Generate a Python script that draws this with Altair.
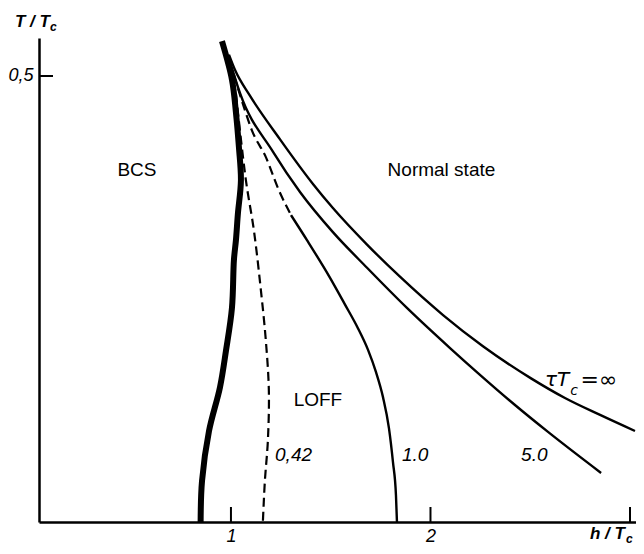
import altair as alt
import pandas as pd

# ---------------- data ----------------
# first-order BCS boundary (thick line)
thick_h = [0.955, 1.005, 1.025, 1.04, 1.05, 1.035, 1.025, 1.015, 1.005, 0.975, 0.945, 0.89, 0.855, 0.848]
thick_T = [0.539, 0.496, 0.459, 0.420, 0.383, 0.346, 0.316, 0.294, 0.240, 0.192, 0.151, 0.102, 0.046, 0.0]

# tau*Tc = 0.42 (dashed)
c042_h = [1.025, 1.075, 1.115, 1.15, 1.175, 1.19, 1.185, 1.17, 1.16]
c042_T = [0.480, 0.383, 0.327, 0.260, 0.203, 0.147, 0.091, 0.046, 0.0]

# tau*Tc = 1.0 (dashed upper part, solid lower part)
c10d_h = [1.015, 1.065, 1.105, 1.175, 1.24, 1.301]
c10d_T = [0.501, 0.465, 0.439, 0.409, 0.372, 0.344]
c10s_h = [1.301, 1.381, 1.496, 1.571, 1.637, 1.687, 1.727, 1.762, 1.792, 1.812, 1.827, 1.832]
c10s_T = [0.344, 0.316, 0.274, 0.244, 0.217, 0.193, 0.168, 0.140, 0.105, 0.067, 0.030, 0.0]

# tau*Tc = 5.0
c50_h = [0.990, 1.045, 1.211, 1.346, 1.511, 1.682, 1.882, 2.098, 2.248, 2.419, 2.589, 2.855]
c50_T = [0.520, 0.481, 0.415, 0.370, 0.325, 0.285, 0.240, 0.195, 0.165, 0.132, 0.101, 0.055]

# tau*Tc = infinity
cinf_h = [0.990, 1.020, 1.095, 1.246, 1.411, 1.511, 1.682, 1.847, 2.063, 2.263, 2.504, 2.674, 2.850, 3.025]
cinf_T = [0.524, 0.507, 0.478, 0.429, 0.379, 0.352, 0.311, 0.275, 0.232, 0.197, 0.161, 0.139, 0.120, 0.102]

x_ticks = [1, 2, 3]
y_ticks = [0.5]

# region labels / curve labels: text, h, T
region_labels = ["BCS", "Normal state", "LOFF"]
region_h = [0.529, 2.055, 1.436]
region_T = [0.395, 0.395, 0.137]

curve_labels = ["0,42", "1.0", "5.0"]
curve_label_h = [1.221, 1.857, 2.454]
curve_label_T = [0.075, 0.075, 0.075]

W, H = 597, 484
FONT = "Liberation Sans"

xscale = alt.Scale(domain=[0.038, 3.03], nice=False, zero=False)
yscale = alt.Scale(domain=[0, 0.5426], nice=False, zero=False)

xaxis = alt.Axis(values=[1, 2], format="d", ticks=False, grid=False, title=None,
                 domainColor="black", domainWidth=2.5, labelColor="black",
                 labelFont=FONT, labelFontSize=18, labelFontStyle="italic",
                 labelPadding=5)
yaxis = alt.Axis(values=[0.5], labelExpr="'0,5'", ticks=False, grid=False, title=None,
                 domainColor="black", domainWidth=2.5, labelColor="black",
                 labelFont=FONT, labelFontSize=18, labelFontStyle="italic",
                 labelPadding=6)


def X():
    return alt.X("h:Q", scale=xscale, axis=xaxis)


def Y():
    return alt.Y("T:Q", scale=yscale, axis=yaxis)


def curve_df(hs, ts):
    return pd.DataFrame({"h": hs, "T": ts, "i": list(range(len(hs)))})


def line(hs, ts, width, dash=None, interp="catmull-rom"):
    kw = dict(color="black", strokeWidth=width, interpolate=interp, strokeCap="butt")
    if dash:
        kw["strokeDash"] = dash
    return alt.Chart(curve_df(hs, ts)).mark_line(**kw).encode(x=X(), y=Y(), order="i:Q")


layers = [
    line(thick_h, thick_T, 6),
    line(c042_h, c042_T, 2.2, [9, 5]),
    line(c10d_h, c10d_T, 2.2, [9, 5], "monotone"),
    line(c10s_h, c10s_T, 2.4, None, "monotone"),
    line(c50_h, c50_T, 2.4, None, "monotone"),
    line(cinf_h, cinf_T, 2.4, None, "monotone"),
]

# inward tick marks
xt = alt.Chart(pd.DataFrame({"h": x_ticks})).mark_rule(color="black", strokeWidth=2).encode(
    x=X(), y=alt.value(H), y2=alt.value(H - 15))
yt = alt.Chart(pd.DataFrame({"T": y_ticks})).mark_rule(color="black", strokeWidth=2).encode(
    y=Y(), x=alt.value(0), x2=alt.value(14))
layers += [xt, yt]

# region labels
reg = alt.Chart(pd.DataFrame({"h": region_h, "T": region_T, "t": region_labels})).mark_text(
    font=FONT, fontSize=19, color="black", align="center", baseline="middle").encode(
    x=X(), y=Y(), text="t:N")
cl = alt.Chart(pd.DataFrame({"h": curve_label_h, "T": curve_label_T, "t": curve_labels})).mark_text(
    font=FONT, fontSize=19, fontStyle="italic", color="black", align="left", baseline="middle").encode(
    x=X(), y=Y(), text="t:N")
layers += [reg, cl]

# tau Tc = infinity label
tau_parts = [("τT", 2.574, 0.159, 20, "italic", "DejaVu Sans"),
             ("c", 2.700, 0.147, 14, "italic", "DejaVu Sans"),
             ("=∞", 2.752, 0.159, 22, "normal", "DejaVu Sans")]
for t, h, T, s, st, f in tau_parts:
    layers.append(alt.Chart(pd.DataFrame({"h": [h], "T": [T], "t": [t]})).mark_text(
        font=f, fontSize=s, fontStyle=st, color="black", align="left", baseline="middle").encode(
        x=X(), y=Y(), text="t:N"))

# axis titles (T/Tc top-left, h/Tc bottom-right)
def title_piece(t, px, py, size):
    return alt.Chart(pd.DataFrame({"t": [t]})).mark_text(
        font=FONT, fontSize=size, fontStyle="italic", fontWeight="bold", color="black",
        align="left", baseline="middle").encode(
        x=alt.value(px), y=alt.value(py), text="t:N")

layers += [
    title_piece("T / T", -24, -16, 17),
    title_piece("c", 11, -11, 12),
    title_piece("h / T", 551, 496, 17),
    title_piece("c", 587, 501, 12),
]

chart = alt.layer(*layers).properties(
    width=W, height=H,
    autosize=alt.AutoSizeParams(type="none"),
    padding={"left": 31, "top": 30, "right": 0, "bottom": 24},
).configure_view(strokeWidth=0)

chart.save("out.html", embed_options={"renderer": "svg", "actions": False})
